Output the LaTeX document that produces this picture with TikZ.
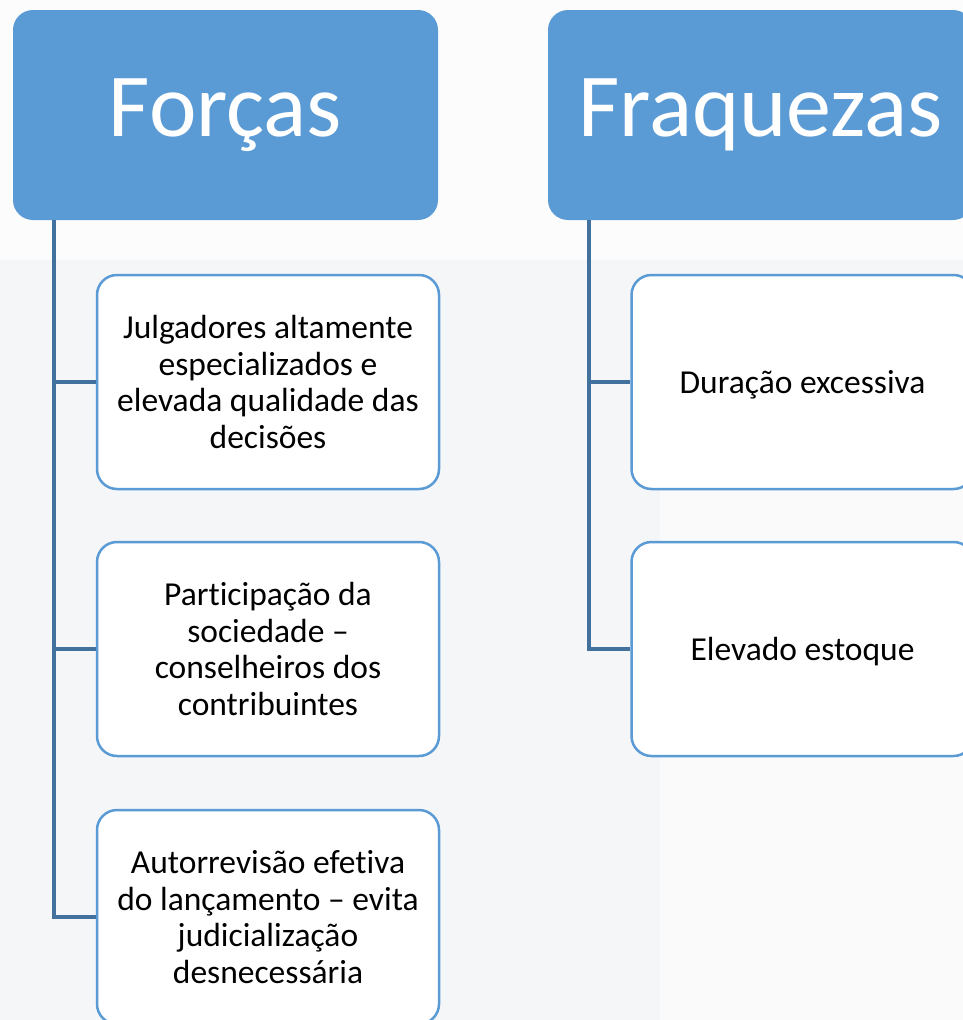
\documentclass[tikz,border=0pt]{standalone}
\usepackage{fontspec}
\setmainfont[Ligatures=NoCommon]{Carlito}
\definecolor{hdr}{HTML}{5B9BD5}
\definecolor{conn}{HTML}{41719C}
\definecolor{bg}{HTML}{F5F6F7}
\tikzset{
  header/.style={rectangle, rounded corners=20pt, fill=hdr, draw=none,
    minimum width=425pt, minimum height=210pt, text=white,
    font=\fontsize{90}{100}\selectfont, inner sep=0pt},
  child/.style={rectangle, rounded corners=20pt, fill=white, draw=hdr, line width=2.5pt,
    minimum width=342pt, minimum height=214pt, text=black, align=center,
    font=\fontsize{33.5}{36.7}\selectfont, inner sep=0pt},
  link/.style={draw=conn, line width=3.2pt}
}
\begin{document}
\begin{tikzpicture}[x=1pt,y=-1pt]
\useasboundingbox (0,0) rectangle (963,1020);
\clip (0,0) rectangle (963,1020);
\fill[bg] (0,0) rectangle (963,1020);
\fill[white!70!bg] (0,0) rectangle (963,260);
\fill[white!50!bg] (660,300) rectangle (963,1020);
\node[header] (h1) at (225.5,115) {Forças};
\node[header] (h2) at (760.5,115) {Fraquezas};
\coordinate (lx) at (54,0);
\coordinate (rx) at (589,0);
\node[child] (a1) at (268,382) {Julgadores altamente\\especializados e\\elevada qualidade das\\decisões};
\node[child] (a2) at (268,649) {Participação da\\sociedade –\\conselheiros dos\\contribuintes};
\node[child] (a3) at (268,917) {Autorrevisão efetiva\\do lançamento – evita\\judicialização\\desnecessária};
\node[child] (b1) at (802.5,382) {\raisebox{-3pt}[\height][\depth]{Duração excessiva}};
\node[child] (b2) at (802.5,649) {\raisebox{-3pt}[\height][\depth]{Elevado estoque}};
\draw[link] (h1.south -| lx) |- (a1.west);
\draw[link] (h1.south -| lx) |- (a2.west);
\draw[link] (h1.south -| lx) |- (a3.west);
\draw[link] (h2.south -| rx) |- (b1.west);
\draw[link] (h2.south -| rx) |- (b2.west);
\end{tikzpicture}
\end{document}
